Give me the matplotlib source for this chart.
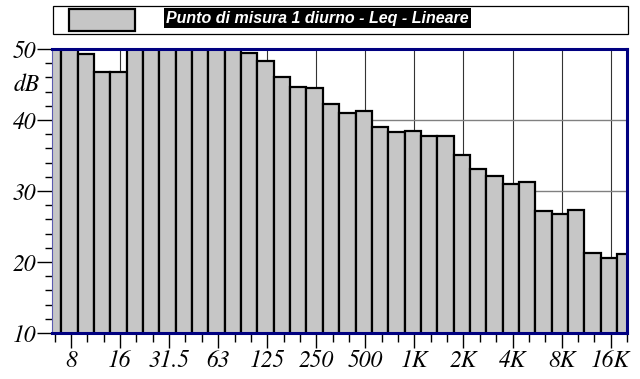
import matplotlib
matplotlib.use("Agg")
import matplotlib.pyplot as plt
from matplotlib.patches import Rectangle

plt.rcParams["font.family"] = ["TeX Gyre Termes", "STIXGeneral", "DejaVu Serif"]
plt.rcParams["font.style"] = "italic"

bands = ["6.3", "8", "10", "12.5", "16", "20", "25", "31.5", "40", "50", "63", "80",
         "100", "125", "160", "200", "250", "315", "400", "500", "630", "800", "1K",
         "1.25K", "1.6K", "2K", "2.5K", "3.15K", "4K", "5K", "6.3K", "8K", "10K",
         "12.5K", "16K", "20K"]
values = [51, 51, 49.3, 46.8, 46.8, 51, 51, 51, 51, 51, 51, 51,
          49.5, 48.35, 46.1, 44.6, 44.5, 42.3, 41.0, 41.2, 39.05, 38.35, 38.5,
          37.8, 37.8, 35.0, 33.1, 32.1, 31.0, 31.3, 27.2, 26.8, 27.3,
          21.2, 20.6, 21.1]
labeled = ["8", "16", "31.5", "63", "125", "250", "500", "1K", "2K", "4K", "8K", "16K"]
legend_label = "Punto di misura 1 diurno - Leq - Lineare"
y_ticks = [10, 20, 30, 40, 50]

W, H = 640, 379
fig = plt.figure(figsize=(6.4, 3.79), dpi=100)
ax = fig.add_axes([52 / W, 1 - 333 / H, 575 / W, 284 / H])

xs = [i - 0.1 for i in range(len(bands))]
ax.bar(xs, values, width=1.0, color="#c6c6c6", edgecolor="black", linewidth=1.6, zorder=2)

ax.set_xlim(-0.16, 35.0)
ax.set_ylim(10, 50)

tick_font = dict(family=["TeX Gyre Termes", "STIXGeneral"], style="italic", size=17)
major_idx = [bands.index(b) for b in labeled]
ax.set_xticks(major_idx)
ax.set_xticklabels(labeled, fontdict=tick_font)
ax.set_xticks(range(len(bands)), minor=True)
ax.set_yticks(y_ticks)
ax.set_yticklabels([str(v) for v in y_ticks], fontdict=tick_font)
ax.set_yticks(range(10, 51, 2), minor=True)

ax.tick_params(axis="y", which="major", length=10.8, width=1, color="black", pad=0.3, direction="out")
ax.tick_params(axis="y", which="minor", length=5, width=1, color="black", direction="out")
ax.tick_params(axis="x", which="major", length=10.8, width=1, color="black", pad=1, direction="out")
ax.tick_params(axis="x", which="minor", length=6.5, width=1, color="black", direction="out")

ax.set_axisbelow(True)
ax.grid(axis="y", which="major", color="#808080", linewidth=1.0)
ax.grid(axis="x", which="major", color="#333333", linewidth=0.8)

for s in ["top", "right", "bottom"]:
    ax.spines[s].set_color("#000080")
    ax.spines[s].set_linewidth(2.2)
    ax.spines[s].set_zorder(5)
ax.spines["left"].set_color("#5a5ab0")
ax.spines["left"].set_linewidth(0.8)

fig.text(27 / W, 1 - 85 / H, "dB", ha="center", va="center", **tick_font)

# legend box
fig.patches.append(Rectangle((53 / W, 1 - 34 / H), 575 / W, 28 / H, transform=fig.transFigure,
                             facecolor="white", edgecolor="black", linewidth=0.9))
fig.patches.append(Rectangle((69 / W, 1 - 31 / H), 66 / W, 22 / H, transform=fig.transFigure,
                             facecolor="#c6c6c6", edgecolor="black", linewidth=1.6))
fig.text(166 / W, 1 - 18 / H, legend_label, ha="left", va="center",
         family="Liberation Sans", weight="bold", style="italic", size=11.5, color="white",
         bbox=dict(facecolor="black", edgecolor="none", pad=1.5))

fig.savefig("out.png", dpi=100)
